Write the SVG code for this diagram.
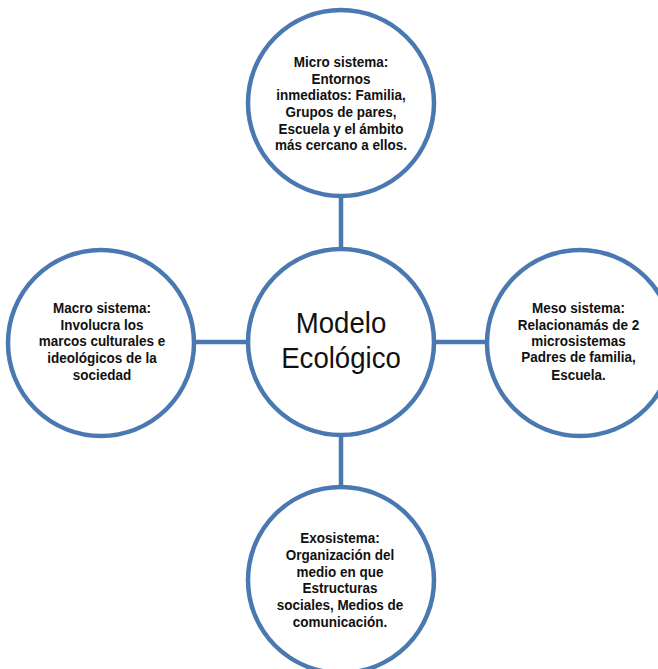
<svg xmlns="http://www.w3.org/2000/svg" width="658" height="669" viewBox="0 0 658 669">
<style>
.c{fill:#ffffff;stroke:#4a78b0;stroke-width:4.5}
.l{stroke:#4a78b0;stroke-width:4.5;fill:none}
.t{font-family:"Liberation Sans",Arial,sans-serif;font-weight:bold;font-size:15.5px;fill:#111111;text-anchor:middle}
.m{font-family:"Liberation Sans",Arial,sans-serif;font-size:30px;fill:#111111;text-anchor:middle}
</style>
<rect width="658" height="669" fill="#ffffff"/>
<g id="connectors">
<line class="l" x1="341" y1="193" x2="341" y2="250"/>
<line class="l" x1="341" y1="435" x2="341" y2="487"/>
<line class="l" x1="195" y1="342" x2="248" y2="342"/>
<line class="l" x1="434" y1="342" x2="487" y2="342"/>
</g>
<g id="micro">
<circle class="c" cx="341" cy="103" r="93"/>
<g transform="translate(341,0) scale(0.87,1)">
<text class="t" x="0" y="67">Micro sistema:</text>
<text class="t" x="0" y="84">Entornos</text>
<text class="t" x="0" y="100.5">inmediatos: Familia,</text>
<text class="t" x="0" y="117">Grupos de pares,</text>
<text class="t" x="0" y="134">Escuela y el ámbito</text>
<text class="t" x="0" y="150.5">más cercano a ellos.</text>
</g>
</g>
<g id="macro">
<circle class="c" cx="101" cy="343" r="93"/>
<g transform="translate(102,0) scale(0.87,1)">
<text class="t" x="0" y="313">Macro sistema:</text>
<text class="t" x="0" y="330">Involucra los</text>
<text class="t" x="0" y="346.5">marcos culturales e</text>
<text class="t" x="0" y="363">ideológicos de la</text>
<text class="t" x="0" y="380">sociedad</text>
</g>
</g>
<g id="modelo">
<circle class="c" cx="341" cy="342" r="93"/>
<g transform="translate(341,0) scale(0.92,1)">
<text class="m" x="0" y="333">Modelo</text>
<text class="m" x="0" y="368">Ecológico</text>
</g>
</g>
<g id="meso">
<circle class="c" cx="580" cy="343" r="93"/>
<g transform="translate(578.5,0) scale(0.87,1)">
<text class="t" x="0" y="313">Meso sistema:</text>
<text class="t" x="0" y="330">Relacionamás de 2</text>
<text class="t" x="0" y="346">microsistemas</text>
<text class="t" x="0" y="362.5">Padres de familia,</text>
<text class="t" x="0" y="380">Escuela.</text>
</g>
</g>
<g id="exo">
<circle class="c" cx="341" cy="580" r="93"/>
<g transform="translate(340,0) scale(0.87,1)">
<text class="t" x="0" y="543">Exosistema:</text>
<text class="t" x="0" y="560">Organización del</text>
<text class="t" x="0" y="577">medio en que</text>
<text class="t" x="0" y="593.5">Estructuras</text>
<text class="t" x="0" y="610">sociales, Medios de</text>
<text class="t" x="0" y="627">comunicación.</text>
</g>
</g>
</svg>
